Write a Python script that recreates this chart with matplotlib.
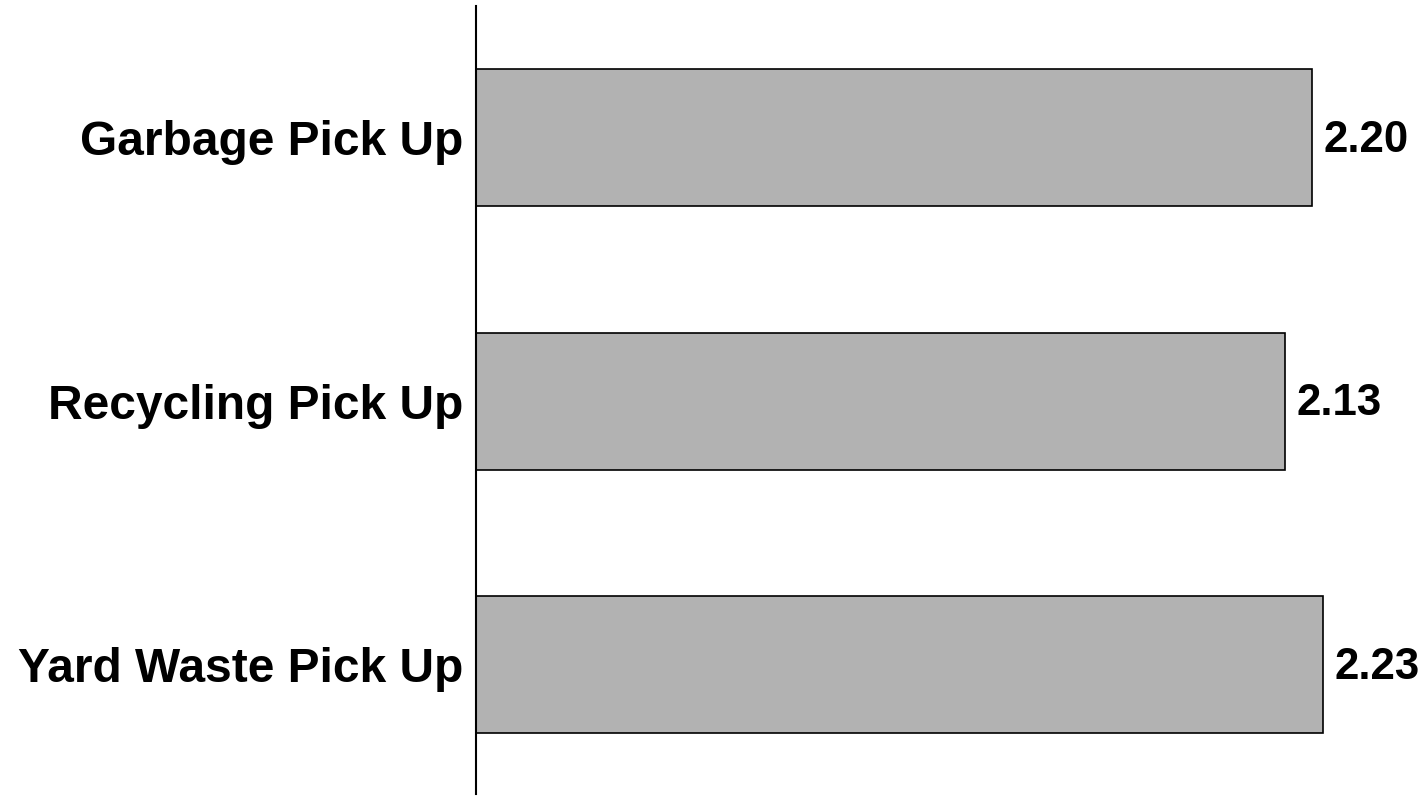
import matplotlib
matplotlib.use("Agg")
import matplotlib.pyplot as plt

categories = ["Garbage Pick Up", "Recycling Pick Up", "Yard Waste Pick Up"]
values = [2.20, 2.13, 2.23]

plt.rcParams["font.family"] = ["Liberation Sans", "DejaVu Sans"]

fig = plt.figure(figsize=(14.22, 7.96), dpi=100)
ax = fig.add_axes([476 / 1422, 2 / 796, 946 / 1422, 788 / 796])

pos = list(range(len(categories)))
ax.barh(pos, values, height=0.52, color="#b2b2b2", edgecolor="black", linewidth=1.2)
for y, v in zip(pos, values):
    ax.text(v + 0.03, y + 0.01, f"{v:.2f}", va="center", ha="left",
            fontsize=31.5, fontweight="bold")

ax.set_xlim(0, 946 / 380)
ax.set_ylim(2.49, -0.5)
ax.set_yticks(pos)
ax.set_yticklabels(categories, fontsize=34.5, fontweight="bold")
ax.tick_params(axis="y", length=0, pad=9)
ax.set_xticks([])
for side in ["top", "right", "bottom"]:
    ax.spines[side].set_visible(False)
ax.spines["left"].set_linewidth(1.5)

fig.savefig("out.png", dpi=100)
